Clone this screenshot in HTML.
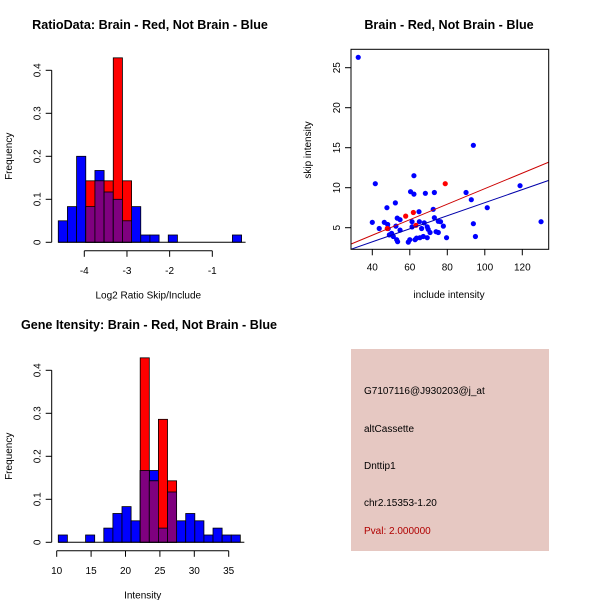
<!DOCTYPE html>
<html><head><meta charset="utf-8"><style>
html,body{margin:0;padding:0;background:#fff}
svg{display:block;font-family:"Liberation Sans",Arial,sans-serif}
</style></head><body>
<svg id="c" width="600" height="600" viewBox="0 0 600 600"></svg>
<script>
// ---- Ratio histogram data ----
const ratioBlue=[0.05,0.083,0.2,0.083,0.167,0.117,0.1,0.05,0.083,0.017,0.017,0,0.017,0,0,0,0,0,0,0.017];
const ratioRed=[0,0,0,0.143,0.143,0.143,0.429,0.143,0,0,0,0,0,0,0,0,0,0,0,0];
const ratioStart=-4.61, ratioBin=0.2148;
const ratioXTicks=[-4,-3,-2,-1];
const yTicks=[0,0.1,0.2,0.3,0.4];
// ---- Intensity histogram data ----
const intBlue=[0.017,0,0,0.017,0,0.033,0.067,0.083,0.05,0.167,0.167,0.033,0.117,0.05,0.067,0.05,0.017,0.033,0.017,0.017];
const intRed=[0,0,0,0,0,0,0,0,0,0.429,0.143,0.286,0.143,0,0,0,0,0,0,0];
const intStart=10.23, intBin=1.323;
const intXTicks=[10,15,20,25,30,35];
// ---- Scatter data ----
const blueX=[32.5,40,41.6,43.7,46.4,47.8,48.2,48.5,49.1,50.3,51.2,52.3,52.6,53.3,53,53.5,54.8,54.8,59.2,60.4,60,61.2,61.2,62.2,62.2,62.8,63.6,64.9,65.1,65.4,66.3,67.2,67.7,68.3,69.3,69.3,69.8,70.8,72.5,73.1,73.1,74,75.2,75.2,76.4,77.9,79.6,90,92.8,93.9,93.9,95,101.3,118.8,130];
const blueY=[26.3,5.67,10.5,4.9,5.67,7.5,5.4,4.9,4.1,4.3,3.9,8.1,5.2,6.2,3.5,3.25,6,4.7,3.2,9.5,3.5,5.75,5.1,11.5,9.2,3.5,3.7,7,5.75,3.75,4.9,3.9,5.6,9.3,5.1,3.75,4.8,4.4,7.3,9.4,6.25,4.5,5.8,4.4,5.75,5.2,3.75,9.4,8.5,15.3,5.5,3.9,7.5,10.25,5.75];
const redX=[48,57.8,61.9,63.3,78.9];
const redY=[4.9,6.45,6.9,5.3,10.5];
const fitRed=[0.18,0.097];   // intercept, slope
const fitBlue=[-0.03,0.0816];
const scXTicks=[40,60,80,100,120];
const scYTicks=[5,10,15,20,25];

const svg=document.getElementById('c');
const NS='http://www.w3.org/2000/svg';
function el(tag,attrs,parent){const e=document.createElementNS(NS,tag);for(const k in attrs)e.setAttribute(k,attrs[k]);(parent||svg).appendChild(e);return e;}
function txt(x,y,s,size,extra,parent){const t=el('text',Object.assign({x:x,y:y,'font-size':size,'text-anchor':'middle'},extra||{}),parent);t.textContent=s;return t;}

function histogram(name,ox,oy,title,xlabel,blue,red,start,bin,xticks,xs,x0px,base){
  const g=el('g',{});
  
  
  const X=v=>x0px+(v-xticks[0])*xs;
  const Y=v=>base-v*430;
  const tt=txt(ox,oy,title,12.6,{'font-weight':'bold'},g);
  
  
  blue.forEach((v,i)=>{const x=X(start+i*bin),w=bin*xs;
    if(v>0){const b=el('rect',{x:x,y:Y(v),width:w,height:v*430,fill:'#0000FF',stroke:'#000','stroke-width':0.8},g);
      
      }
  });
  red.forEach((v,i)=>{const x=X(start+i*bin),w=bin*xs;
    if(v>0){const b=el('rect',{x:x,y:Y(v),width:w,height:v*430,fill:'#FF0000',stroke:'#000','stroke-width':0.8},g);
      
      
      const o=Math.min(v,blue[i]);
      if(o>0){const p=el('rect',{x:x,y:Y(o),width:w,height:o*430,fill:'#7F007F',stroke:'#000','stroke-width':0.8},g);
        
        }}
  });
  el('line',{x1:X(start),x2:X(start+blue.length*bin)+4,y1:base,y2:base,stroke:'#000'},g);
  const xa=el('g',{},g);
  
  
  const ay=base+8.5;
  el('line',{x1:X(xticks[0]),x2:X(xticks[xticks.length-1]),y1:ay,y2:ay,stroke:'#000'},xa);
  xticks.forEach(t=>{el('line',{x1:X(t),x2:X(t),y1:ay,y2:ay+6,stroke:'#000'},xa);txt(X(t),ay+23,String(t),10,{},xa);});
  const xl=txt((X(xticks[0])+X(xticks[xticks.length-1]))/2,base+56,xlabel,10,{},g);
  
  
  const ya=el('g',{},g);
  
  
  const ax=51.7;
  el('line',{x1:ax,x2:ax,y1:Y(0),y2:Y(0.4),stroke:'#000'},ya);
  yTicks.forEach(t=>{el('line',{x1:ax-6,x2:ax,y1:Y(t),y2:Y(t),stroke:'#000'},ya);
    txt(ax-11,Y(t),String(t),10,{transform:`rotate(-90 ${ax-11} ${Y(t)})`},ya);});
  const yl=txt(12,Y(0.2),'Frequency',10,{transform:`rotate(-90 12 ${Y(0.2)})`},g);
  
  
}
histogram('ratio-histogram',150,29,'RatioData: Brain - Red, Not Brain - Blue','Log2 Ratio Skip/Include',ratioBlue,ratioRed,ratioStart,ratioBin,ratioXTicks,42.67,84.3,242.3);
histogram('intensity-histogram',149,329,'Gene Itensity: Brain - Red, Not Brain - Blue','Intensity',intBlue,intRed,intStart,intBin,intXTicks,6.88,56.7,542.3);

(function(){
  const g=el('g',{});
  
  
  const L=351,R=548.7,T=49.3,B=249.3;
  const X=v=>372.3+(v-40)*1.875, Y=v=>227.7-(v-5)*8;
  const t=txt(449,29,'Brain - Red, Not Brain - Blue',12.6,{'font-weight':'bold'},g);
  
  
  const cp=el('clipPath',{id:'clip'},g);
  el('rect',{x:L,y:T,width:R-L,height:B-T},cp);
  const pg=el('g',{'clip-path':'url(#clip)'},g);
  blueX.forEach((x,i)=>{const c=el('circle',{cx:X(x),cy:Y(blueY[i]),r:2.6,fill:'#0000FF'},pg);
    
    });
  redX.forEach((x,i)=>{const c=el('circle',{cx:X(x),cy:Y(redY[i]),r:2.6,fill:'#FF0000'},pg);
    
    });
  const xa0=28,xa1=136;
  const lr=el('line',{x1:X(xa0),y1:Y(fitRed[0]+fitRed[1]*xa0),x2:X(xa1),y2:Y(fitRed[0]+fitRed[1]*xa1),stroke:'#CC0000','stroke-width':1},pg);
  
  
  const lb=el('line',{x1:X(xa0),y1:Y(fitBlue[0]+fitBlue[1]*xa0),x2:X(xa1),y2:Y(fitBlue[0]+fitBlue[1]*xa1),stroke:'#0000AA','stroke-width':1},pg);
  
  
  el('rect',{x:L,y:T,width:R-L,height:B-T,fill:'none',stroke:'#000'},g);
  const xa=el('g',{},g);
  
  
  scXTicks.forEach(v=>{el('line',{x1:X(v),x2:X(v),y1:B,y2:B+6,stroke:'#000'},xa);txt(X(v),B+21,String(v),10,{},xa);});
  const ya=el('g',{},g);
  
  
  scYTicks.forEach(v=>{el('line',{x1:L-6,x2:L,y1:Y(v),y2:Y(v),stroke:'#000'},ya);txt(L-11,Y(v),String(v),10,{transform:`rotate(-90 ${L-11} ${Y(v)})`},ya);});
  const xl=txt(449,298,'include intensity',10,{},g);
  
  
  const yl=txt(311,150,'skip intensity',10,{transform:'rotate(-90 311 150)'},g);
  
  
})();
</script>
<div style="position:absolute;left:351px;top:349px;width:198px;height:202px;background:#E6C8C2;font-family:'Liberation Sans',Arial,sans-serif;font-size:10px;color:#000">
  <div style="position:absolute;left:13px;top:37px">G7107116@J930203@j_at</div>
  <div style="position:absolute;left:13px;top:75px">altCassette</div>
  <div style="position:absolute;left:13px;top:112px">Dnttip1</div>
  <div style="position:absolute;left:13px;top:149px">chr2.15353-1.20</div>
  <div style="position:absolute;left:13px;top:177px;color:#B00000">Pval: 2.000000</div>
</div>
</body></html>
